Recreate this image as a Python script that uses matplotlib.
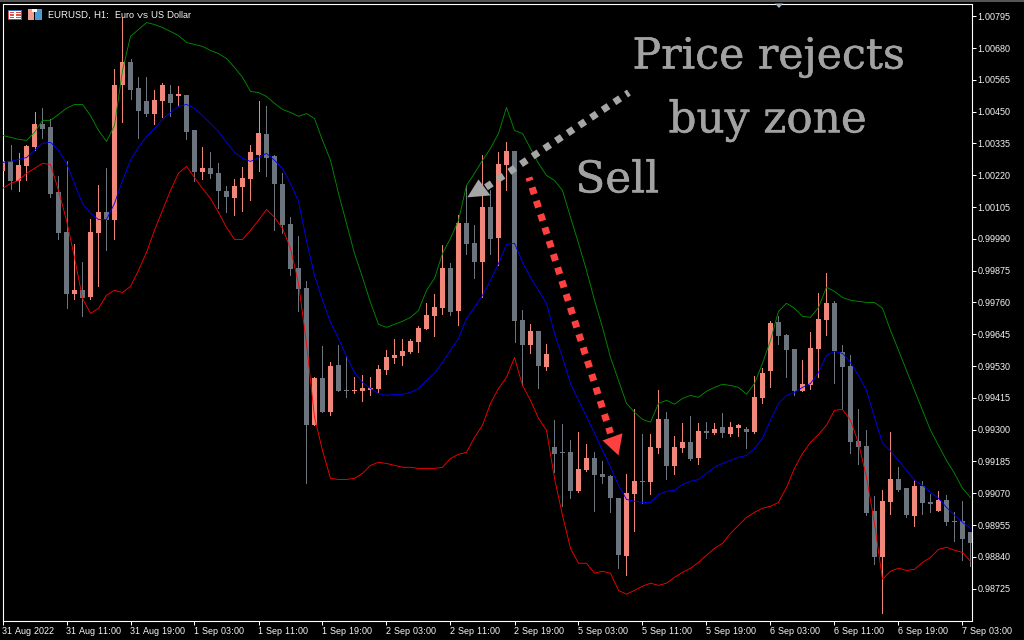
import numpy as np
import matplotlib
matplotlib.use('Agg')
from matplotlib import pyplot as plt
from matplotlib.patches import Polygon, Rectangle
from matplotlib import patheffects

plt.rcParams['text.hinting'] = 'native'
plt.rcParams['text.hinting_factor'] = 1

# all prices in points (1e-5)
opens = [100234,100270,100198,100252,100321,100404,100393,100158,100013,99789,99804,99778,100010,100086,100057,100545,100631,100534,100487,100443,
	100487,100512,100505,100509,100382,100230,100245,100227,100162,100136,100176,100205,100295,100368,100288,100190,100042,99883,99811,99316,
	99486,99363,99533,99442,99439,99439,99442,99446,99514,99558,99565,99580,99616,99663,99710,99739,99883,99728,100049,99974,
	99908,100104,99992,100256,100306,99695,99605,99655,99525,99236,99218,99218,99077,99153,99196,99138,99131,99052,98842,99066,
	99113,99110,99232,99337,99167,99232,99254,99196,99294,99287,99308,99283,99305,99301,99290,99413,99511,99688,99641,99590,
	99439,99460,99590,99695,99757,99580,99529,99258,99240,99005,98838,99037,99120,99088,98987,99095,99037,99005,99044,98969,
	98969,98929]
highs = [100281,100331,100299,100331,100447,100462,100425,100216,100270,99970,99908,100060,100183,100245,100603,100787,100642,100574,100574,100527,
	100552,100545,100541,100509,100382,100321,100303,100266,100180,100205,100248,100331,100487,100469,100295,100227,100068,99999,99836,99489,
	99601,99543,99605,99565,99489,99496,99489,99533,99587,99627,99627,99627,99674,99757,99789,99966,99901,100078,100183,100039,
	100295,100165,100303,100339,100306,99731,99681,99655,99608,99334,99319,99261,99290,99247,99218,99185,99135,99052,99138,99373,
	99283,99283,99442,99363,99276,99323,99348,99323,99326,99323,99359,99326,99319,99308,99493,99522,99692,99710,99645,99590,
	99551,99652,99796,99865,99764,99605,99569,99373,99298,99059,99081,99290,99164,99088,99117,99113,99066,99077,99063,99001,
	99041,98929]
lows = [100216,100169,100162,100201,100313,100353,100140,99988,99739,99771,99710,99771,99818,99948,99988,100411,100494,100353,100433,100404,
	100429,100433,100472,100350,100198,100205,100209,100100,100086,100075,100089,100129,100234,100216,100021,100010,99858,99728,99106,99316,
	99363,99352,99439,99417,99431,99402,99424,99435,99500,99540,99533,99576,99580,99663,99637,99717,99713,99677,99937,99847,
	99778,99937,99894,100165,99616,99460,99576,99449,99514,99146,99023,99052,99073,99149,99005,99106,99001,98799,98773,98932,
	99034,99066,99214,99120,99138,99218,99189,99175,99269,99283,99272,99276,99276,99232,99287,99395,99453,99608,99489,99424,
	99439,99446,99489,99641,99467,99373,99214,99175,98990,98813,98636,98994,99077,98983,98951,98994,99001,99005,98954,98896,
	98828,98806]
closes = [100270,100198,100256,100324,100404,100389,100151,100010,99789,99804,99775,100013,100086,100057,100548,100631,100530,100451,100440,100491,
	100545,100483,100512,100378,100230,100245,100223,100162,100140,100180,100209,100303,100371,100284,100190,100039,99880,99807,99316,99486,
	99363,99529,99439,99439,99442,99449,99449,99518,99561,99569,99583,99619,99666,99713,99742,99883,99724,100046,99970,99908,
	100104,99988,100259,100306,99692,99605,99655,99529,99572,99211,99214,99077,99157,99196,99135,99128,99052,98846,99070,99113,
	99110,99236,99337,99167,99236,99254,99193,99294,99287,99301,99287,99308,99316,99290,99417,99504,99684,99637,99587,99439,
	99464,99594,99699,99757,99583,99525,99254,99236,98998,98838,99041,99120,99081,98990,99095,99034,99030,99044,98965,98965,
	98904,98889]

band_upper = [100364,100357,100350,100346,100375,100418,100418,100440,100462,100476,100476,100436,100382,100342,100400,100599,100722,100747,100772,100765,
	100754,100740,100725,100700,100693,100686,100671,100660,100642,100610,100574,100523,100519,100505,100480,100458,100447,100433,100443,100425,
	100346,100274,100154,100046,99937,99851,99760,99681,99670,99681,99692,99706,99731,99804,99847,99937,99992,100057,100183,100227,
	100274,100317,100371,100465,100382,100371,100317,100263,100219,100201,100165,100068,99974,99876,99768,99670,99561,99478,99395,99363,
	99337,99327,99395,99406,99392,99413,99424,99417,99439,99453,99464,99460,99453,99428,99467,99540,99623,99728,99757,99739,
	99710,99706,99742,99815,99800,99778,99768,99764,99760,99760,99739,99659,99587,99514,99442,99370,99298,99243,99189,99142,
	99088,99055]
band_middle = [100266,100270,100277,100284,100310,100335,100339,100310,100263,100190,100118,100082,100060,100060,100118,100201,100274,100321,100360,100389,
	100422,100447,100469,100476,100462,100436,100407,100378,100339,100303,100281,100270,100284,100299,100274,100245,100190,100125,99984,99858,
	99768,99688,99630,99565,99507,99471,99449,99431,99424,99428,99428,99435,99449,99478,99504,99543,99587,99630,99702,99742,
	99786,99840,99901,99970,99974,99905,99851,99804,99757,99648,99561,99467,99406,99348,99287,99225,99164,99099,99048,99041,
	99037,99037,99066,99077,99081,99102,99113,99120,99142,99164,99178,99189,99200,99207,99232,99269,99334,99395,99424,99435,
	99453,99467,99507,99569,99583,99576,99543,99496,99442,99345,99251,99222,99189,99153,99117,99099,99073,99052,99019,98990,
	98965,98943]
band_lower = [100172,100190,100201,100227,100245,100263,100259,100165,100057,99923,99775,99720,99739,99786,99804,99796,99818,99876,99941,100021,
	100093,100165,100227,100252,100212,100172,100136,100086,100031,99988,99988,100021,100057,100096,100068,100028,99955,99829,99612,99345,
	99225,99124,99120,99120,99124,99142,99171,99182,99178,99171,99164,99164,99160,99160,99160,99164,99196,99211,99218,99272,
	99316,99395,99449,99489,99561,99460,99406,99341,99298,99124,98990,98871,98817,98817,98781,98788,98781,98719,98705,98719,
	98734,98745,98737,98745,98766,98784,98799,98820,98846,98871,98889,98925,98954,98983,99001,99016,99023,99037,99091,99160,
	99214,99254,99283,99316,99370,99373,99334,99251,99128,98961,98759,98788,98799,98791,98795,98820,98838,98867,98875,98864,
	98856,98824]

price_ticks = [1.00795,1.00680,1.00565,1.00450,1.00335,1.00220,1.00105,0.99990,0.99875,0.99760,0.99645,0.99530,0.99415,0.99300,0.99185,0.99070,0.98955,0.98840,0.98725]
time_labels = ['31 Aug 2022','31 Aug 11:00','31 Aug 19:00','1 Sep 03:00','1 Sep 11:00','1 Sep 19:00','2 Sep 03:00','2 Sep 11:00',
	'2 Sep 19:00','5 Sep 03:00','5 Sep 11:00','5 Sep 19:00','6 Sep 03:00','6 Sep 11:00','6 Sep 19:00','7 Sep 03:00']

UP_COLOR = '#f0877a'
DOWN_COLOR = '#6c757d'
TEXT_GREY = '#a2a2a2'
ARROW_GREY = '#a6a6a6'
ARROW_RED = '#ff4040'
LABEL_FONT = 'Liberation Sans'
SLAB_FONT = 'DejaVu Serif'

W, H = 1024, 640
fig = plt.figure(figsize=(W/100, H/100), dpi=100, facecolor='black')
ax = fig.add_axes([2.5/W, 1-620.5/H, 969/W, 617/H], facecolor='black')

o = np.array(opens)/1e5
h = np.array(highs)/1e5
l = np.array(lows)/1e5
c = np.array(closes)/1e5
x = np.arange(len(o))
colors = [UP_COLOR if c[i] >= o[i] else DOWN_COLOR for i in x]

ax.vlines(x, l, h, colors=colors, linewidth=0.72, antialiased=False, zorder=2)
body_low = np.minimum(o, c)
body_h = np.maximum(np.abs(c-o), 0.00004)
ax.bar(x, body_h, bottom=body_low, width=0.63, color=colors, linewidth=0, antialiased=False, zorder=3)

ax.plot(x, np.array(band_upper)/1e5, color='#009000', lw=0.62, zorder=4)
ax.plot(x, np.array(band_middle)/1e5, color='#0000ff', lw=0.62, zorder=4)
ax.plot(x, np.array(band_lower)/1e5, color='#ff0000', lw=0.62, zorder=4)

ax.set_xlim(0, 121.125)
ax.set_ylim(0.98610, 1.00841)
ax.set_xticks(x[::8])
ax.set_xticklabels(time_labels, ha='left', fontsize=6.6, family=LABEL_FONT, color='white')
ax.yaxis.tick_right()
ax.set_yticks(price_ticks)
ax.set_yticklabels(['%.5f' % p for p in price_ticks], fontsize=6.6, family=LABEL_FONT, color='white')
ax.tick_params(axis='x', length=3, width=0.72, color='white', pad=1.5)
ax.tick_params(axis='y', length=3, width=0.72, color='white', pad=1.5)
for s in ax.spines.values():
	s.set_color('white')
	s.set_linewidth(0.8)

# rejection arrow and sell arrow
ax.plot([78.3, 60.2], [1.00519, 1.00172], color=ARROW_GREY, lw=5.04, linestyle=(0.5, (1, 1)), dash_capstyle='butt', zorder=6)
ax.add_patch(Polygon([(58.1, 1.00140), (59.5, 1.00205), (61.0, 1.00147)], closed=True, color=ARROW_GREY, lw=0, zorder=6))
ax.plot([65.8, 76.0], [1.00212, 0.99287], color=ARROW_RED, lw=5.04, linestyle=(0.5, (1, 1)), dash_capstyle='butt', zorder=6)
ax.add_patch(Polygon([(75.0, 0.99261), (77.5, 0.99287), (77.0, 0.99207)], closed=True, color=ARROW_RED, lw=0, zorder=6))

thick = [patheffects.withStroke(linewidth=0.35, foreground=TEXT_GREY)]
ax.text(78.75, 1.00606, 'Price rejects', fontsize=30.7, family=SLAB_FONT, color=TEXT_GREY, zorder=7, path_effects=thick)
ax.text(83.25, 1.00375, 'buy zone', fontsize=31.5, family=SLAB_FONT, color=TEXT_GREY, zorder=7, path_effects=thick)
ax.text(71.6, 1.00158, 'Sell', fontsize=31.5, family=SLAB_FONT, color=TEXT_GREY, zorder=7, path_effects=thick)

# title line and the two small icons
fig.text(48/W, 1-18/H, 'EURUSD, H1:  Euro vs US Dollar', fontsize=6.4, family=LABEL_FONT, color='white')

def px_rect(x0, y0, w, hh, col):
	fig.add_artist(Rectangle((x0/W, 1-(y0+hh)/H), w/W, hh/H, transform=fig.transFigure, facecolor=col, edgecolor='none'))

px_rect(0, 0, W, 1.5, '#555555')
px_rect(8, 10, 14, 10, '#ffffff')
px_rect(8, 10, 1, 10, '#d9534f')
px_rect(8, 10, 14, 1, '#2f6fb0')
px_rect(8, 19, 14, 1, '#2f6fb0')
px_rect(21, 10, 1, 10, '#2f6fb0')
for yy in (12, 14.5, 17):
	px_rect(10, yy, 4, 1.3, '#d9534f')
	px_rect(15.5, yy, 5, 1.3, '#d9534f')
px_rect(28, 9, 6, 11, '#f0a090')
px_rect(35, 9, 7, 11, '#4a9ad4')
px_rect(32, 9, 5, 3, '#ffffff')
fig.add_artist(Polygon([(775/W, 1-3.5/H), (783/W, 1-3.5/H), (779/W, 1-8/H)], closed=True, transform=fig.transFigure, facecolor='#9fb4c4', edgecolor='none'))

fig.savefig('out.png', dpi=100, facecolor='black')
